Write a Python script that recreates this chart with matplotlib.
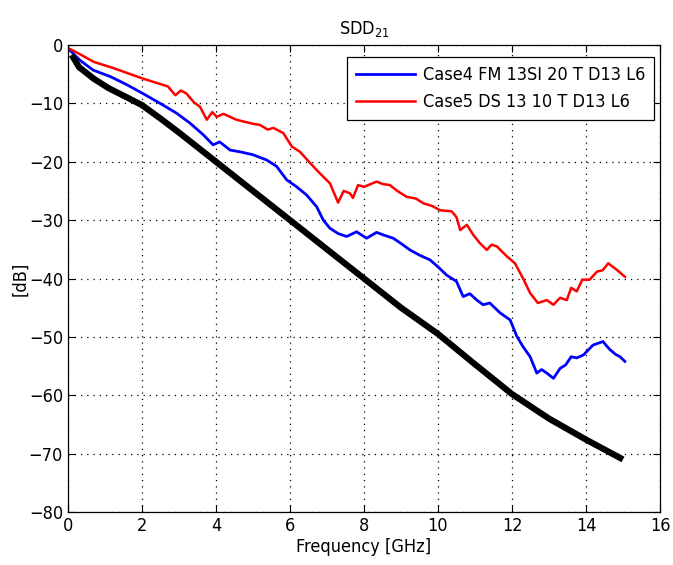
import matplotlib
matplotlib.use("Agg")
import matplotlib.pyplot as plt

plt.rcParams['font.family'] = ['DejaVu Sans']
plt.rcParams['font.stretch'] = 'condensed'
plt.rcParams['mathtext.fontset'] = 'custom'
plt.rcParams['mathtext.rm'] = 'DejaVu Sans:stretch=condensed'

# ---- data ----
red_f = [0, 0.3, 0.7, 1.2, 1.6, 2.0, 2.4, 2.7, 2.9, 3.05, 3.2, 3.4, 3.57, 3.75, 3.9, 4.02,
         4.2, 4.38, 4.55, 4.74, 5.0, 5.19, 5.4, 5.55, 5.82, 6.05, 6.27, 6.54, 6.81, 7.08,
         7.2, 7.3, 7.45, 7.62, 7.7, 7.84, 8.0, 8.34, 8.5, 8.7, 8.9, 9.15, 9.4, 9.6, 9.85,
         10.05, 10.37, 10.5, 10.6, 10.78, 10.95, 11.14, 11.32, 11.45, 11.59, 11.86, 12.08,
         12.3, 12.49, 12.7, 12.94, 13.12, 13.3, 13.48, 13.6, 13.75, 13.9, 14.1, 14.3, 14.45,
         14.6, 14.83, 15.05]
red_db = [-0.5, -1.5, -2.9, -3.9, -4.8, -5.7, -6.5, -7.1, -8.6, -7.8, -8.3, -9.8, -10.6, -12.8,
          -11.5, -12.3, -11.8, -12.3, -12.8, -13.1, -13.5, -13.7, -14.5, -14.2, -15.1, -17.4,
          -18.3, -20.2, -22.0, -23.7, -25.5, -27.0, -25.0, -25.4, -26.2, -24.0, -24.3, -23.4,
          -23.8, -24.0, -25.0, -26.0, -26.3, -27.1, -27.6, -28.3, -28.5, -29.5, -31.7, -30.8,
          -32.5, -34.0, -35.1, -34.2, -34.5, -36.2, -37.4, -40.0, -42.5, -44.2, -43.7, -44.5,
          -43.3, -43.7, -41.6, -42.2, -40.2, -40.2, -38.8, -38.6, -37.4, -38.5, -39.7]

blue_f = [0.05, 0.32, 0.68, 1.14, 1.59, 2.02, 2.49, 2.94, 3.3, 3.66, 3.92, 4.1, 4.38, 4.65,
          5.0, 5.37, 5.64, 5.91, 6.18, 6.45, 6.72, 6.9, 7.08, 7.3, 7.53, 7.8, 8.07, 8.34,
          8.55, 8.79, 9.0, 9.24, 9.5, 9.78, 10.0, 10.23, 10.5, 10.68, 10.86, 11.05, 11.22,
          11.4, 11.68, 11.95, 12.13, 12.3, 12.49, 12.67, 12.8, 12.94, 13.12, 13.3, 13.45,
          13.6, 13.75, 13.93, 14.19, 14.46, 14.55, 14.65, 14.8, 14.92, 15.05]
blue_db = [-0.9, -2.6, -4.3, -5.4, -6.8, -8.3, -10.0, -11.7, -13.4, -15.4, -17.1, -16.6, -18.0,
           -18.3, -18.8, -19.7, -20.8, -23.1, -24.3, -25.7, -27.7, -30.0, -31.4, -32.3, -32.8,
           -32.0, -33.1, -32.1, -32.6, -33.1, -34.0, -35.1, -36.0, -36.8, -38.0, -39.4, -40.5,
           -43.1, -42.6, -43.7, -44.5, -44.2, -45.9, -47.1, -49.9, -51.7, -53.4, -56.2, -55.6,
           -56.2, -57.1, -55.4, -54.8, -53.4, -53.6, -53.1, -51.4, -50.8, -51.5, -52.2, -53.0,
           -53.4, -54.2]

black_f = [0.1, 0.3, 0.7, 1.1, 1.6, 2.0, 2.5, 3, 3.5, 4, 5, 6, 7, 8, 9, 10, 11, 12, 13, 14, 15]
black_db = [-1.7, -3.8, -5.8, -7.4, -9.0, -10.3, -12.6, -15.0, -17.5, -20.0, -25.0, -30.0,
            -35.0, -40.0, -45.0, -49.5, -54.7, -59.8, -64.0, -67.6, -71.0]

labels = ['Case4 FM 13SI 20 T D13 L6', 'Case5 DS 13 10 T D13 L6']
xticks = [0, 2, 4, 6, 8, 10, 12, 14, 16]
yticks = [-80, -70, -60, -50, -40, -30, -20, -10, 0]

# ---- plot ----
fig = plt.figure(figsize=(6.73, 5.65), dpi=100)
ax = fig.add_axes([68/673, 1-512/565, 592/673, 467/565])

ax.plot(blue_f, blue_db, color='#0000ff', lw=2.0, label=labels[0])
ax.plot(red_f, red_db, color='#ff0000', lw=1.8, label=labels[1])
ax.plot(black_f, black_db, color='black', lw=4.5, solid_capstyle='butt')

ax.set_xlim(0, 16)
ax.set_ylim(-80, 0)
ax.set_xticks(xticks)
ax.set_yticks(yticks)
ax.tick_params(direction='in', length=5, top=True, right=True, labelsize=13, width=0.8)
ax.grid(True, color='black', linestyle=(0, (1, 4)), linewidth=0.9)
for s in ax.spines.values():
    s.set_linewidth(0.9)

ax.set_xlabel('Frequency [GHz]', fontsize=13, labelpad=2)
ax.set_ylabel('[dB]', fontsize=13)
ax.yaxis.set_label_coords(-0.066, 0.5)
ax.set_title('SDD$_{21}$', fontsize=13, pad=8)

leg = ax.legend(loc='upper right', bbox_to_anchor=(0.990, 0.974), borderaxespad=0,
                fancybox=False, framealpha=1, edgecolor='black', fontsize=13,
                handlelength=3.3, handletextpad=0.4, borderpad=0.5, labelspacing=0.5)
leg.get_frame().set_linewidth(0.9)

fig.savefig('out.png', dpi=100)
